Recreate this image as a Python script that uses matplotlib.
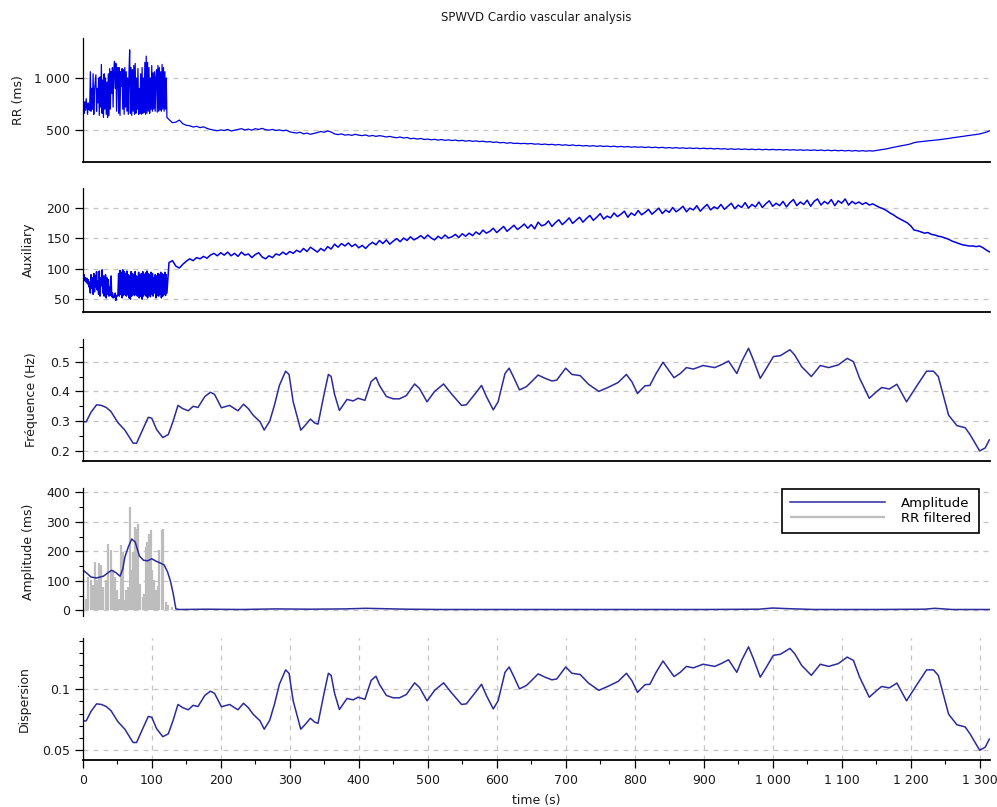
import numpy as np
import matplotlib
matplotlib.use("Agg")
import matplotlib.pyplot as plt
from matplotlib.ticker import FuncFormatter, MultipleLocator

# ---------------- data ----------------
# RR interval (ms): 1 s step for the first 123 s, then 5 s step up to 1315 s
rr_early = [700, 730, 660, 770, 690, 800, 720, 650, 760, 700,
            690, 1060, 680, 900, 700, 1040, 650, 880, 960, 1030,
            680, 900, 760, 1000, 640, 1010, 720, 1130, 660, 980,
            620, 1040, 700, 1000, 650, 960, 620, 1040, 640, 1090,
            700, 1060, 850, 1100, 720, 1080, 1160, 900, 1140, 680,
            1080, 1100, 660, 1100, 640, 1060, 920, 1090, 700, 1080,
            650, 1100, 720, 1060, 680, 1000, 650, 1050, 1270, 660,
            1100, 640, 1080, 680, 1120, 650, 1140, 660, 1000, 700,
            1090, 650, 900, 660, 1040, 650, 1100, 660, 1000, 670,
            1150, 650, 1210, 660, 1150, 680, 1100, 660, 1000, 700,
            1120, 680, 1050, 700, 1060, 680, 1000, 1080, 670, 1120,
            680, 1100, 690, 1060, 680, 1130, 700, 1100, 680, 1060,
            700, 1000, 620]
rr_late = [600, 570, 575, 595, 560, 545, 540, 528, 535, 522,   # 125
           530, 515, 505, 498, 492, 500, 495, 505, 490, 498,   # 175
           505, 512, 500, 508, 498, 512, 505, 515, 502, 498,   # 225
           505, 495, 500, 492, 498, 482, 475, 470, 478, 462,   # 275
           470, 458, 466, 475, 485, 478, 490, 480, 462, 455,   # 325
           462, 450, 455, 448, 458, 450, 445, 452, 440, 447,   # 375
           438, 445, 440, 432, 438, 430, 425, 432, 422, 428,   # 425
           415, 420, 412, 418, 408, 412, 405, 410, 402, 408,   # 475
           400, 405, 398, 403, 395, 400, 392, 398, 390, 395,   # 525
           388, 392, 385, 388, 380, 384, 376, 380, 372, 378,   # 575
           370, 372, 368, 371, 366, 370, 363, 366, 360, 364,   # 625
           358, 362, 355, 360, 353, 357, 350, 356, 349, 352,   # 675
           346, 350, 344, 349, 342, 347, 341, 345, 339, 344,   # 725
           337, 342, 336, 340, 334, 338, 333, 337, 331, 336,   # 775
           330, 334, 328, 333, 326, 331, 325, 330, 324, 328,   # 825
           322, 327, 321, 326, 320, 325, 319, 323, 317, 322,   # 875
           316, 320, 314, 319, 313, 318, 312, 317, 311, 316,   # 925
           310, 315, 309, 314, 309, 313, 308, 312, 307, 311,   # 975
           306, 310, 305, 309, 304, 308, 303, 308, 302, 307,   # 1025
           301, 306, 300, 305, 299, 304, 298, 303, 297, 302,   # 1075
           296, 301, 296, 300, 297, 302, 306, 312, 318, 326,   # 1125
           333, 340, 346, 352, 358, 366, 378, 384, 388, 392,   # 1175
           395, 398, 402, 405, 410, 414, 418, 424, 428, 433,   # 1225
           438, 442, 447, 452, 456, 462, 470, 480, 492]        # 1275

# Auxiliary signal, same time base as RR
aux_early = [88, 82, 90, 80, 85, 78, 84, 75, 82, 70,
             78, 60, 90, 68, 85, 58, 92, 62, 88, 70,
             95, 65, 80, 58, 96, 55, 85, 72, 98, 60,
             88, 55, 75, 90, 52, 85, 58, 82, 55, 70,
             56, 88, 54, 60, 52, 56, 53, 60, 48, 56,
             55, 58, 92, 55, 97, 58, 94, 52, 98, 56,
             95, 58, 92, 55, 96, 57, 90, 52, 88, 50,
             95, 55, 92, 58, 90, 56, 95, 58, 88, 55,
             60, 94, 52, 90, 55, 92, 50, 95, 55, 90,
             58, 93, 55, 96, 52, 92, 56, 90, 54, 94,
             58, 92, 55, 85, 60, 90, 52, 88, 56, 92,
             55, 90, 58, 94, 52, 92, 55, 90, 58, 94,
             56, 90, 60]
aux_late = [110, 113, 104, 101, 107, 112, 116, 113, 118, 116,   # 125
            120, 117, 122, 125, 121, 126, 122, 127, 121, 125,   # 175
            120, 127, 122, 124, 118, 123, 126, 119, 116, 121,   # 225
            118, 124, 122, 127, 123, 128, 125, 130, 127, 133,   # 275
            128, 135, 131, 127, 133, 129, 136, 132, 140, 135,   # 325
            141, 137, 142, 136, 140, 134, 138, 133, 139, 143,   # 375
            139, 146, 141, 147, 140, 145, 149, 144, 150, 146,   # 425
            152, 147, 150, 154, 149, 155, 150, 147, 153, 149,   # 475
            155, 150, 152, 156, 151, 157, 153, 158, 154, 160,   # 525
            156, 163, 158, 161, 166, 159, 164, 169, 161, 166,   # 575
            171, 164, 168, 173, 166, 172, 165, 176, 170, 172,   # 625
            178, 169, 175, 180, 172, 177, 183, 174, 179, 184,   # 675
            176, 182, 187, 179, 184, 190, 181, 186, 183, 191,   # 725
            185, 189, 194, 184, 191, 187, 195, 188, 192, 197,   # 775
            189, 194, 199, 190, 196, 192, 200, 193, 197, 202,   # 825
            193, 199, 196, 203, 194, 200, 205, 196, 201, 198,   # 875
            205, 197, 202, 207, 198, 204, 200, 208, 199, 205,   # 925
            201, 209, 200, 206, 211, 202, 207, 203, 210, 201,   # 975
            208, 213, 203, 209, 205, 212, 202, 210, 214, 204,   # 1025
            210, 206, 213, 203, 211, 207, 214, 204, 210, 206,   # 1075
            209, 205, 208, 204, 206, 203, 200, 198, 195, 191,   # 1125
            188, 184, 181, 178, 175, 170, 163, 162, 160, 158,   # 1175
            159, 156, 155, 153, 152, 150, 148, 145, 143, 141,   # 1225
            139, 138, 137, 137, 136, 137, 134, 130, 127]        # 1275

# instantaneous frequency (Hz) and dispersion, read at the same times
freq_t = [0, 5, 12, 20, 27, 34, 41, 51, 61, 73,
          78, 85, 95, 100, 107, 116, 124, 131, 138, 145,
          153, 160, 167, 177, 185, 191, 201, 213, 220, 225,
          233, 240, 247, 257, 263, 271, 278, 285, 294, 299,
          305, 316, 322, 330, 336, 341, 350, 356, 360, 365,
          372, 383, 392, 399, 409, 418, 425, 430, 440, 450,
          459, 469, 481, 488, 499, 510, 523, 534, 549, 556,
          568, 578, 585, 595, 602, 612, 618, 624, 633, 643,
          648, 660, 670, 680, 687, 700, 709, 721, 733, 748,
          762, 776, 788, 796, 804, 815, 822, 831, 841, 849,
          857, 866, 875, 885, 899, 916, 926, 936, 948, 955,
          965, 972, 982, 991, 1001, 1011, 1025, 1032, 1042, 1056,
          1069, 1081, 1095, 1108, 1117, 1126, 1140, 1151, 1158, 1169,
          1180, 1194, 1209, 1223, 1233, 1240, 1255, 1267, 1279, 1286,
          1300, 1308, 1314]
freq_v = [0.298, 0.298, 0.330, 0.355, 0.353, 0.346, 0.332, 0.295, 0.270, 0.226,
          0.226, 0.262, 0.313, 0.310, 0.272, 0.245, 0.255, 0.300, 0.353, 0.342,
          0.335, 0.350, 0.346, 0.383, 0.397, 0.390, 0.345, 0.353, 0.342, 0.335,
          0.357, 0.342, 0.320, 0.298, 0.270, 0.300, 0.355, 0.420, 0.468, 0.457,
          0.365, 0.270, 0.285, 0.307, 0.294, 0.290, 0.393, 0.457, 0.450, 0.390,
          0.336, 0.373, 0.368, 0.377, 0.370, 0.433, 0.447, 0.420, 0.383, 0.375,
          0.375, 0.386, 0.425, 0.410, 0.365, 0.400, 0.425, 0.393, 0.353, 0.355,
          0.390, 0.420, 0.383, 0.338, 0.365, 0.460, 0.478, 0.450, 0.405, 0.416,
          0.427, 0.455, 0.444, 0.435, 0.438, 0.478, 0.457, 0.453, 0.424, 0.400,
          0.414, 0.430, 0.457, 0.432, 0.393, 0.419, 0.420, 0.460, 0.498, 0.472,
          0.446, 0.460, 0.480, 0.475, 0.487, 0.480, 0.490, 0.502, 0.460, 0.500,
          0.545, 0.506, 0.444, 0.478, 0.517, 0.520, 0.540, 0.522, 0.483, 0.450,
          0.487, 0.480, 0.489, 0.511, 0.500, 0.444, 0.377, 0.400, 0.413, 0.408,
          0.424, 0.365, 0.419, 0.468, 0.468, 0.450, 0.320, 0.285, 0.278, 0.255,
          0.200, 0.210, 0.237]
disp_v = [0.0739, 0.0739, 0.0818, 0.0880, 0.0875, 0.0858, 0.0823, 0.0732, 0.0670, 0.0560,
          0.0560, 0.0650, 0.0776, 0.0769, 0.0675, 0.0608, 0.0632, 0.0744, 0.0875, 0.0848,
          0.0831, 0.0868, 0.0858, 0.0950, 0.0985, 0.0967, 0.0856, 0.0875, 0.0848, 0.0831,
          0.0885, 0.0848, 0.0794, 0.0739, 0.0670, 0.0744, 0.0880, 0.1042, 0.1161, 0.1133,
          0.0905, 0.0670, 0.0707, 0.0761, 0.0729, 0.0719, 0.0975, 0.1133, 0.1116, 0.0967,
          0.0833, 0.0925, 0.0913, 0.0935, 0.0918, 0.1074, 0.1109, 0.1042, 0.0950, 0.0930,
          0.0930, 0.0957, 0.1054, 0.1017, 0.0905, 0.0992, 0.1054, 0.0975, 0.0875, 0.0880,
          0.0967, 0.1042, 0.0950, 0.0838, 0.0905, 0.1141, 0.1185, 0.1116, 0.1004, 0.1032,
          0.1059, 0.1128, 0.1101, 0.1079, 0.1086, 0.1185, 0.1133, 0.1123, 0.1052, 0.0992,
          0.1027, 0.1066, 0.1133, 0.1071, 0.0975, 0.1039, 0.1042, 0.1141, 0.1235, 0.1171,
          0.1106, 0.1141, 0.1190, 0.1178, 0.1208, 0.1190, 0.1215, 0.1245, 0.1141, 0.1240,
          0.1352, 0.1255, 0.1101, 0.1185, 0.1282, 0.1290, 0.1339, 0.1295, 0.1198, 0.1116,
          0.1208, 0.1190, 0.1213, 0.1267, 0.1240, 0.1101, 0.0935, 0.0992, 0.1024, 0.1012,
          0.1052, 0.0905, 0.1039, 0.1161, 0.1161, 0.1116, 0.0794, 0.0707, 0.0689, 0.0632,
          0.0496, 0.0521, 0.0588]

# amplitude (ms)
amp_t = [0, 5, 12, 20, 30, 38, 42, 48, 54, 58,
         61, 66, 71, 76, 82, 88, 94, 100, 107, 113,
         118, 123, 127, 131, 135, 140, 180, 230, 280, 330,
         380, 410, 430, 470, 520, 600, 700, 800, 900, 980,
         1000, 1020, 1060, 1150, 1220, 1235, 1260, 1315]
amp_v = [137, 128, 113, 110, 116, 130, 136, 128, 116, 140,
         180, 215, 242, 232, 185, 170, 168, 175, 166, 160,
         154, 130, 100, 58, 5, 3, 4, 3, 5, 4,
         5, 7, 6, 4, 3, 3, 3, 3, 3, 4,
         8, 6, 3, 3, 4, 7, 3, 3]

# RR filtered spikes (ms)
rrf_t = [1, 4.7, 8, 11.5, 14.4, 17.8, 21.2, 24, 27, 30,
         33.7, 37, 40.5, 43.4, 46.8, 50, 53, 55, 58, 60,
         62.7, 66, 68.5, 71, 73.3, 75.7, 78.2, 80.6, 83, 87,
         89, 91.7, 93.6, 96.5, 98.5, 101, 103.3, 106, 108.6, 111,
         114.4, 116.8, 120.7, 124, 129, 138.6]
rrf_v = [46, 40, 114, 102, 85, 165, 102, 159, 153, 80,
         102, 225, 205, 137, 114, 68, 40, 222, 199, 34,
         68, 80, 349, 137, 199, 282, 276, 293, 90, 46,
         56, 214, 231, 260, 271, 137, 102, 68, 82, 205,
         271, 276, 28, 17, 11, 6]

t_early = np.arange(0, 123)
t_late = np.arange(125, 1316, 5)
t_rr = np.concatenate([t_early, t_late])
rr = np.concatenate([rr_early, rr_late])
aux = np.concatenate([aux_early, aux_late])

BLUE = "#0000e8"
NAVY = "#2b2b9e"
GRID = "#c4c4c4"
TXT = "#1a1a1a"


def sep(v, pos):
    return f"{v:,.0f}".replace(",", " ")


def short(v, pos):
    return f"{v:g}"


fig = plt.figure(figsize=(9.97, 8.07), dpi=100)
L, W = 0.083, 0.910
pos = [(0.7993, 0.1537), (0.6134, 0.1537), (0.4287, 0.1512),
       (0.2367, 0.1586), (0.0582, 0.1512)]
axes = [fig.add_axes([L, b, W, h]) for b, h in pos]
ax1, ax2, ax3, ax4, ax5 = axes


def style(ax, ylim, yticks, ylabel, lab_x, fmt, minor=None):
    ax.set_xlim(0, 1315)
    ax.set_ylim(*ylim)
    ax.spines["top"].set_visible(False)
    ax.spines["right"].set_visible(False)
    ax.spines["left"].set_linewidth(0.9)
    ax.spines["bottom"].set_linewidth(1.3)
    ax.set_yticks(yticks)
    ax.yaxis.set_major_formatter(FuncFormatter(fmt))
    if minor:
        ax.yaxis.set_minor_locator(MultipleLocator(minor))
    ax.yaxis.grid(True, color=GRID, linestyle=(0, (4, 4)), linewidth=0.9)
    ax.tick_params(axis="y", which="major", direction="out", length=6,
                   width=0.9, pad=3, labelsize=9, labelcolor=TXT)
    ax.tick_params(axis="y", which="minor", direction="out", length=3, width=0.8)
    ax.tick_params(axis="x", which="both", bottom=False, labelbottom=False)
    ax.set_ylabel(ylabel, fontsize=9, color=TXT)
    ax.yaxis.set_label_coords(lab_x, 0.5)
    ax.yaxis.label.set_va("center")


ax1.plot(t_rr, rr, color=BLUE, lw=0.9)
style(ax1, (192, 1385), [500, 1000], "RR (ms)", -0.0713, sep)

ax2.plot(t_rr, aux, color=BLUE, lw=1.1)
style(ax2, (29, 232), [50, 100, 150, 200], "Auxiliary", -0.0603, sep)

ax3.plot(freq_t, freq_v, color=NAVY, lw=1.1)
style(ax3, (0.166, 0.576), [0.2, 0.3, 0.4, 0.5], "Fréquence (Hz)", -0.057,
      short, minor=0.05)

rrf = ax4.vlines(rrf_t, 0, rrf_v, color="#bdbdbd", lw=1.6, label="RR filtered")
amp_line, = ax4.plot(amp_t, amp_v, color=NAVY, lw=1.1, label="Amplitude")
style(ax4, (-19, 415), [0, 100, 200, 300, 400], "Amplitude (ms)", -0.0603,
      sep, minor=50)
ax4.spines["bottom"].set_visible(False)
leg = ax4.legend(handles=[amp_line, rrf], loc="upper right",
                 bbox_to_anchor=(0.988, 0.992), borderaxespad=0,
                 fontsize=9.5, handlelength=7.2, handletextpad=1.2,
                 borderpad=0.6, labelspacing=0.15, fancybox=False,
                 framealpha=1, edgecolor="black")
leg.get_frame().set_linewidth(1.2)

ax5.plot(freq_t, disp_v, color=NAVY, lw=1.1)
style(ax5, (0.0415, 0.1425), [0.05, 0.1], "Dispersion", -0.0647, short,
      minor=0.01)
ax5.set_xticks(np.arange(0, 1301, 100))
ax5.xaxis.set_minor_locator(MultipleLocator(50))
ax5.xaxis.set_major_formatter(FuncFormatter(sep))
ax5.tick_params(axis="x", which="major", bottom=True, labelbottom=True,
                direction="out", length=6, width=0.9, pad=4, labelsize=9,
                labelcolor=TXT)
ax5.tick_params(axis="x", which="minor", bottom=True, direction="out",
                length=3, width=0.8)
ax5.xaxis.grid(True, color=GRID, linestyle=(0, (4, 4)), linewidth=0.9)
ax5.set_xlabel("time (s)", fontsize=9, color=TXT)
ax5.xaxis.set_label_coords(0.5, -0.328)
ax5.xaxis.label.set_va("center")

fig.text(536 / 997, 1 - 17 / 807, "SPWVD Cardio vascular analysis",
         ha="center", va="center", fontsize=8.5, color=TXT)

fig.savefig("out.png", dpi=100)
